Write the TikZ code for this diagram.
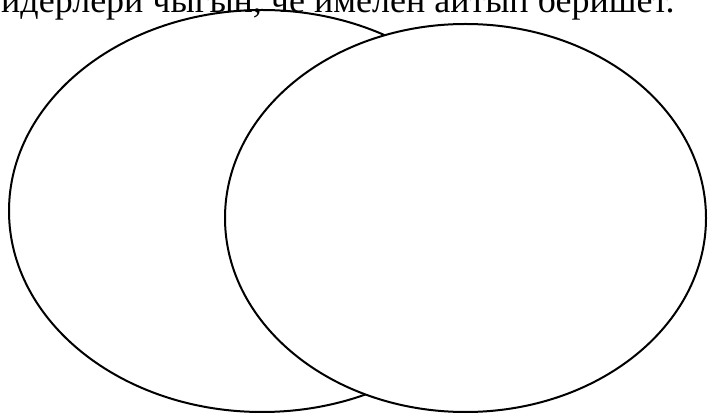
\documentclass[tikz,border=0pt]{standalone}
\usepackage{fontspec}
\setmainfont{Liberation Serif}
\usetikzlibrary{shapes.geometric}
\begin{document}
\begin{tikzpicture}[x=1pt,y=1pt,
  venn/.style={ellipse,draw=black,line width=2pt,fill=white,inner sep=0pt,outer sep=0pt}]
\useasboundingbox (0,0) rectangle (709,415);
\fill[white] (0,0) rectangle (709,415);
\node[venn,minimum width=506pt,minimum height=402pt] (L) at (262,204) {};
\node[venn,minimum width=481pt,minimum height=388pt] (R) at (465.5,197) {};
\node[anchor=base west,inner sep=0pt,font=\fontsize{36}{40}\selectfont] (T) at (1,402) {идерлери чыгын, че ймелен айтып беришет.};
\end{tikzpicture}
\end{document}
